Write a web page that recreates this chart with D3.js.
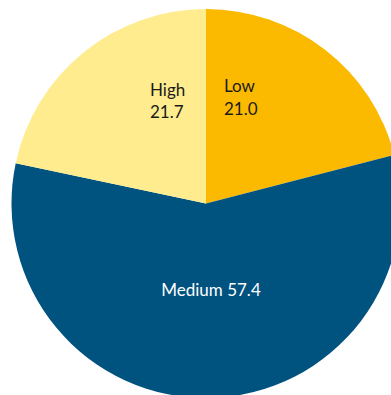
<!DOCTYPE html>
<html><head><meta charset="utf-8">
<script src="https://cdn.jsdelivr.net/npm/d3@7"></script>
<style>html,body{margin:0;padding:0;background:#fff;overflow:hidden}</style>
</head><body><svg id="c" width="391" height="395"></svg>
<script>
const categories = ["Low", "Medium", "High"];
const values = [21.0, 57.4, 21.7];
const colors = ["#fbba00", "#00527f", "#feec8f"];
const textColors = ["#1a1a1a", "#ffffff", "#1a1a1a"];

const cx = 206, cy = 203.5, r = 194.5;
// label placement
const labelPos = [
  {x: 224, y: 92, stacked: true, anchor: "start"},
  {x: 211, y: 296, stacked: false, anchor: "middle"},
  {x: 150, y: 95.5, stacked: true, anchor: "start"}
];

const svg = d3.select("#c");
const g = svg.append("g").attr("transform", `translate(${cx},${cy})`);
const pie = d3.pie().sort(null).value(d => d)(values);
const arc = d3.arc().innerRadius(0).outerRadius(r);

g.selectAll("path").data(pie).join("path")
  .attr("d", arc)
  .attr("fill", (d, i) => colors[i]);

const labels = svg.append("g")
  .style("font-family", "Lato, 'Open Sans', sans-serif")
  .style("font-size", "17px");

pie.forEach((d, i) => {
  const p = labelPos[i];
  const t = labels.append("text")
    .attr("x", p.x).attr("y", p.y)
    .attr("text-anchor", p.anchor)
    .attr("fill", textColors[i]);
  if (p.stacked) {
    t.append("tspan").attr("x", p.x).text(categories[i]);
    t.append("tspan").attr("x", p.x).attr("dy", 22.5).text(d3.format(".1f")(values[i]));
  } else {
    t.text(categories[i] + " " + d3.format(".1f")(values[i]));
  }
});
</script></body></html>
